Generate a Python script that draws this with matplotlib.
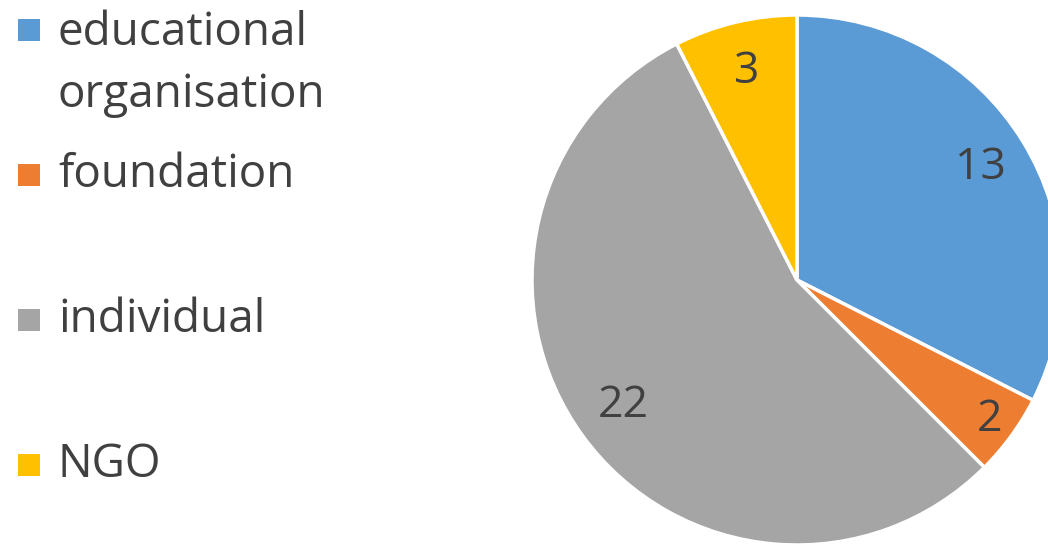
import numpy as np
import matplotlib.pyplot as plt
from matplotlib.patches import Rectangle

# Data
categories = ["educational\norganisation", "foundation", "individual", "NGO"]
values = [13, 2, 22, 3]
colors = ["#5B9BD5", "#ED7D31", "#A5A5A5", "#FFC000"]
TEXT_COLOR = "#404040"
FONT = "Open Sans"

fig = plt.figure(figsize=(10.48, 5.44), dpi=100)
ax = fig.add_axes([0, 0, 1, 1])

total = sum(values)
CX, CY, R = 797, 264, 265
wedges, texts, autotexts = ax.pie(
    values, colors=colors, startangle=90, counterclock=False,
    center=(CX, CY), radius=R, frame=True,
    wedgeprops=dict(edgecolor="white", linewidth=2.5),
    autopct=lambda p: "%d" % round(p * total / 100.0), pctdistance=0.81,
    textprops=dict(fontsize=32, color=TEXT_COLOR, family=FONT))
# small slice label sits further out
for w, t, v in zip(wedges, autotexts, values):
    if v == min(values):
        ang = np.deg2rad((w.theta1 + w.theta2) / 2.0)
        t.set_position((CX + 0.9 * R * np.cos(ang), CY + 0.9 * R * np.sin(ang)))
ax.set_xlim(0, 1048)
ax.set_ylim(0, 544)
ax.set_aspect("equal")
ax.axis("off")

# legend (Excel-style, fixed rows)
rows_y = [30, 175, 320, 465]
for label, color, y in zip(categories, colors, rows_y):
    ax.add_patch(Rectangle((18, 544 - y - 11), 22, 22, facecolor=color,
                           edgecolor="none"))
    ty = y + 34 if "\n" in label else y
    ax.text(58, 544 - ty, label, ha="left", va="center",
            fontsize=33, color=TEXT_COLOR, family=FONT, linespacing=1.45)

fig.savefig("out.png", dpi=100)
